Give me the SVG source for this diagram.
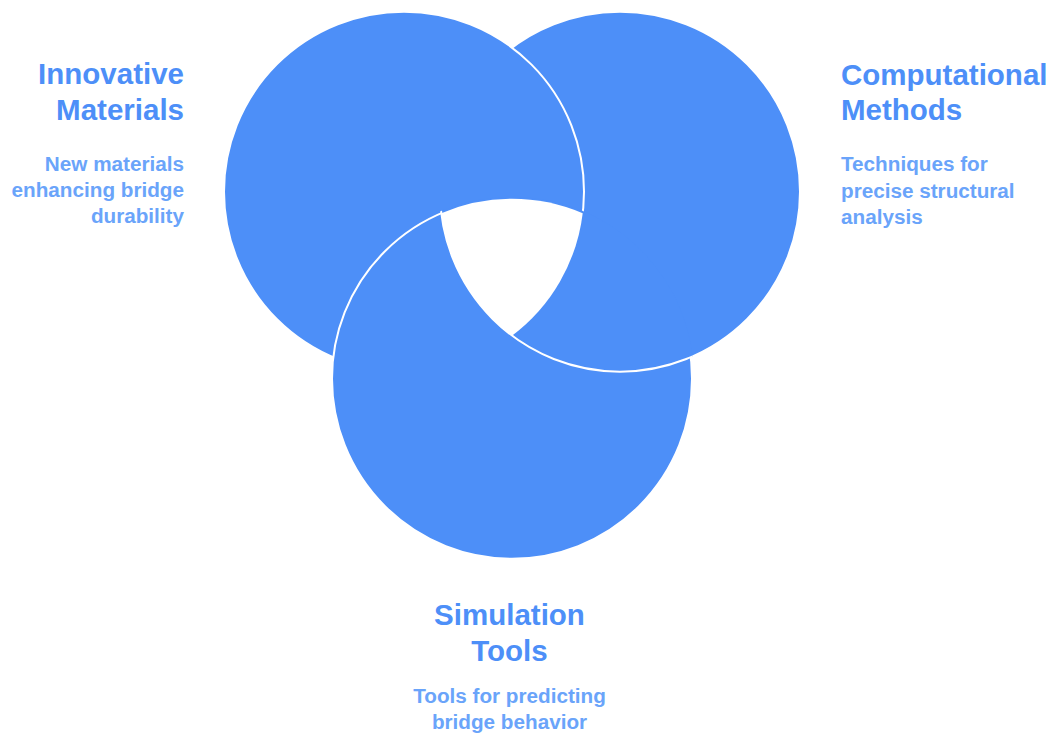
<svg xmlns="http://www.w3.org/2000/svg" width="1055" height="738" viewBox="0 0 1055 738">
  <style>
    .ring { fill: #4d8ff8; stroke: #ffffff; stroke-width: 2; }
    .title { font-family: "Liberation Sans", Arial, sans-serif; font-weight: bold; font-size: 29.5px; fill: #4d8ff8; }
    .desc { font-family: "Liberation Sans", Arial, sans-serif; font-weight: bold; font-size: 20.7px; fill: #6aa4fa; }
  </style>
  <defs>
    <!-- disk of the lower circle (plus its stroke), used to put the right circle back on top of it -->
    <clipPath id="clip-lower">
      <circle cx="512" cy="378.71" r="182"/>
    </clipPath>
  </defs>
  <rect width="1055" height="738" fill="#ffffff"/>

  <!-- interlocking rings: right under left, left under lower, lower under right -->
  <g id="ring-computational">
    <circle class="ring" cx="620" cy="191.65" r="180"/>
  </g>
  <g id="ring-materials">
    <circle class="ring" cx="404" cy="191.65" r="180"/>
  </g>
  <g id="ring-simulation">
    <circle class="ring" cx="512" cy="378.71" r="180"/>
  </g>
  <g id="ring-computational-over" clip-path="url(#clip-lower)">
    <circle class="ring" cx="620" cy="191.65" r="180"/>
  </g>
  <!-- empty centre where all three rings meet -->
  <g id="centre">
    <path d="M441.3,213.18 A180,180 0 0 1 582.7,213.18 A180,180 0 0 1 512,335.65 A180,180 0 0 1 441.3,213.18 Z" fill="#ffffff"/>
  </g>

  <g id="label-materials">
    <text class="title" text-anchor="end" x="184" y="84">Innovative</text>
    <text class="title" text-anchor="end" x="184" y="120">Materials</text>
    <text class="desc" text-anchor="end" x="184" y="171">New materials</text>
    <text class="desc" text-anchor="end" x="184" y="197">enhancing bridge</text>
    <text class="desc" text-anchor="end" x="184" y="223">durability</text>
  </g>

  <g id="label-computational">
    <text class="title" x="841" y="85">Computational</text>
    <text class="title" x="841" y="120">Methods</text>
    <text class="desc" x="841" y="171">Techniques for</text>
    <text class="desc" x="841" y="197.5">precise structural</text>
    <text class="desc" x="841" y="224">analysis</text>
  </g>

  <g id="label-simulation">
    <text class="title" text-anchor="middle" x="509.5" y="625">Simulation</text>
    <text class="title" text-anchor="middle" x="509.5" y="661">Tools</text>
    <text class="desc" text-anchor="middle" x="509.5" y="703">Tools for predicting</text>
    <text class="desc" text-anchor="middle" x="509.5" y="729">bridge behavior</text>
  </g>
</svg>
